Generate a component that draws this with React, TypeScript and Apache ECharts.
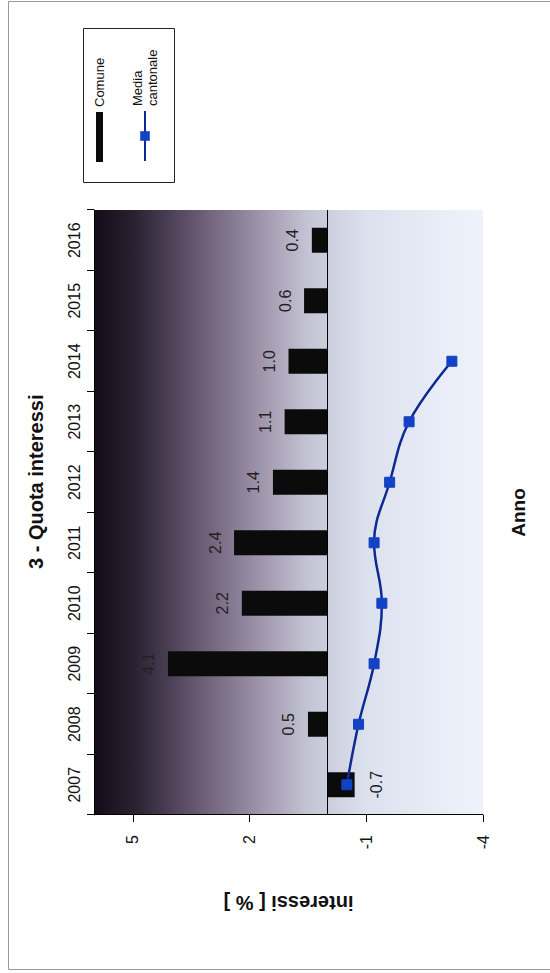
import React, { useEffect, useRef } from "react";
import * as echarts from "echarts";

const years = ["2007", "2008", "2009", "2010", "2011", "2012", "2013", "2014", "2015", "2016"];
const comune = [-0.7, 0.5, 4.1, 2.2, 2.4, 1.4, 1.1, 1.0, 0.6, 0.4];
const mediaCantonale: (number | null)[] = [-0.5, -0.8, -1.2, -1.4, -1.2, -1.6, -2.1, -3.2, null, null];
const valueTicks = [-4, -1, 2, 5];
const valueMin = -4;
const valueMax = 6;

const FONT = '"Liberation Sans", Arial, Helvetica, sans-serif';

export default function App() {
  const ref = useRef<HTMLDivElement>(null);

  useEffect(() => {
    const chart = echarts.init(ref.current!, null, { renderer: "svg" });
    const option: any = {
      animation: false,
      backgroundColor: "#ffffff",
      textStyle: { fontFamily: FONT },
      title: {
        text: "3 - Quota interessi",
        left: 404,
        top: 26,
        padding: 0,
        textStyle: { fontSize: 20, fontWeight: "bold", color: "#111", fontFamily: FONT },
      },
      legend: [
        {
          data: [{ name: "Comune", icon: "rect" }],
          left: 811,
          top: 92,
          padding: 0,
          orient: "vertical",
          itemWidth: 50,
          itemHeight: 7,
          selectedMode: false,
          textStyle: { fontSize: 13, lineHeight: 15, color: "#111", fontFamily: FONT },
        },
        {
          data: ["Media cantonale"],
          left: 811,
          top: 125,
          padding: 0,
          orient: "vertical",
          itemWidth: 50,
          itemHeight: 12,
          selectedMode: false,
          formatter: () => "Media\ncantonale",
          textStyle: { fontSize: 13, lineHeight: 15, color: "#111", fontFamily: FONT, padding: [10, 0, 0, 0] },
        },
      ],
      grid: {
        left: 158,
        right: 210,
        top: 94,
        bottom: 67,
        show: true,
        borderWidth: 0,
        containLabel: false,
        outerBoundsMode: "none",
        backgroundColor: new echarts.graphic.LinearGradient(0, 0, 0, 1, [
          { offset: 0, color: "#140c18" },
          { offset: 0.1, color: "#2a2030" },
          { offset: 0.22, color: "#564860" },
          { offset: 0.4, color: "#968aa2" },
          { offset: 0.55, color: "#c4c4d4" },
          { offset: 0.7, color: "#dce1ee" },
          { offset: 1, color: "#eef3fb" },
        ]),
      },
      xAxis: [
        {
          type: "category",
          data: years,
          position: "top",
          axisLine: { show: true, onZero: false, lineStyle: { color: "#000", width: 1 } },
          axisTick: { show: true, length: 7, lineStyle: { color: "#000" } },
          axisLabel: { fontSize: 16, color: "#111", margin: 12, fontFamily: FONT },
          splitLine: { show: false },
        },
        {
          type: "category",
          data: years,
          position: "bottom",
          axisLine: { show: false, onZero: false },
          axisTick: { show: false },
          axisLabel: { show: false },
          splitLine: { show: false },
          name: "Anno",
          nameLocation: "middle",
          nameGap: 26,
          nameTextStyle: { fontSize: 19, fontWeight: "bold", color: "#111", fontFamily: FONT },
        },
      ],
      yAxis: {
        type: "value",
        min: valueMin,
        max: valueMax,
        axisLine: { show: true, lineStyle: { color: "#000", width: 1 } },
        axisTick: { show: true, length: 7, customValues: valueTicks, lineStyle: { color: "#000" } },
        axisLabel: { customValues: valueTicks, fontSize: 16, color: "#111", margin: 20, fontFamily: FONT },
        splitLine: { show: false },
        name: "interessi [ % ]",
        nameLocation: "middle",
        nameRotate: 90,
        nameGap: 78,
        nameTextStyle: { fontSize: 20, fontWeight: "bold", color: "#111", fontFamily: FONT },
      },
      series: [
        {
          name: "Comune",
          type: "bar",
          xAxisIndex: 0,
          barWidth: 25,
          itemStyle: { color: "#0b0b0b" },
          label: {
            show: true,
            fontSize: 16,
            color: "#222",
            fontFamily: FONT,
            formatter: (p: any) => Number(p.value).toFixed(1),
          },
          data: comune.map((v) => ({
            value: v,
            label: v < 0 ? { position: "bottom", distance: 14 } : { position: "top", distance: 11 },
          })),
          markLine: {
            silent: true,
            symbol: ["none", "none"],
            label: { show: false },
            lineStyle: { color: "#000", width: 1, type: "solid" },
            data: [{ yAxis: 0 }],
          },
        },
        {
          name: "Media cantonale",
          type: "line",
          xAxisIndex: 0,
          data: mediaCantonale,
          smooth: 0.4,
          symbol: "rect",
          symbolSize: 10,
          lineStyle: { color: "#0c2a92", width: 2.5 },
          itemStyle: { color: "#1442c4", borderColor: "#1442c4" },
          z: 3,
        },
      ],
      graphic: [
        {
          type: "rect",
          shape: { x: 3.5, y: 8.5, width: 968, height: 600 },
          style: { fill: "none", stroke: "#999", lineWidth: 1 },
          silent: true,
        },
        {
          type: "rect",
          shape: { x: 790.5, y: 83.5, width: 154, height: 91 },
          style: { fill: "none", stroke: "#222", lineWidth: 1 },
          silent: true,
        },
      ],
    };
    chart.setOption(option);
    return () => chart.dispose();
  }, []);

  return (
    <div
      style={{
        position: "fixed",
        left: 0,
        top: 0,
        width: 550,
        height: 973,
        overflow: "hidden",
        background: "#ffffff",
      }}
    >
      <div
        ref={ref}
        style={{
          position: "absolute",
          left: 0,
          top: 0,
          width: 973,
          height: 550,
          transformOrigin: "0 0",
          transform: "translateY(973px) rotate(-90deg)",
        }}
      />
    </div>
  );
}
